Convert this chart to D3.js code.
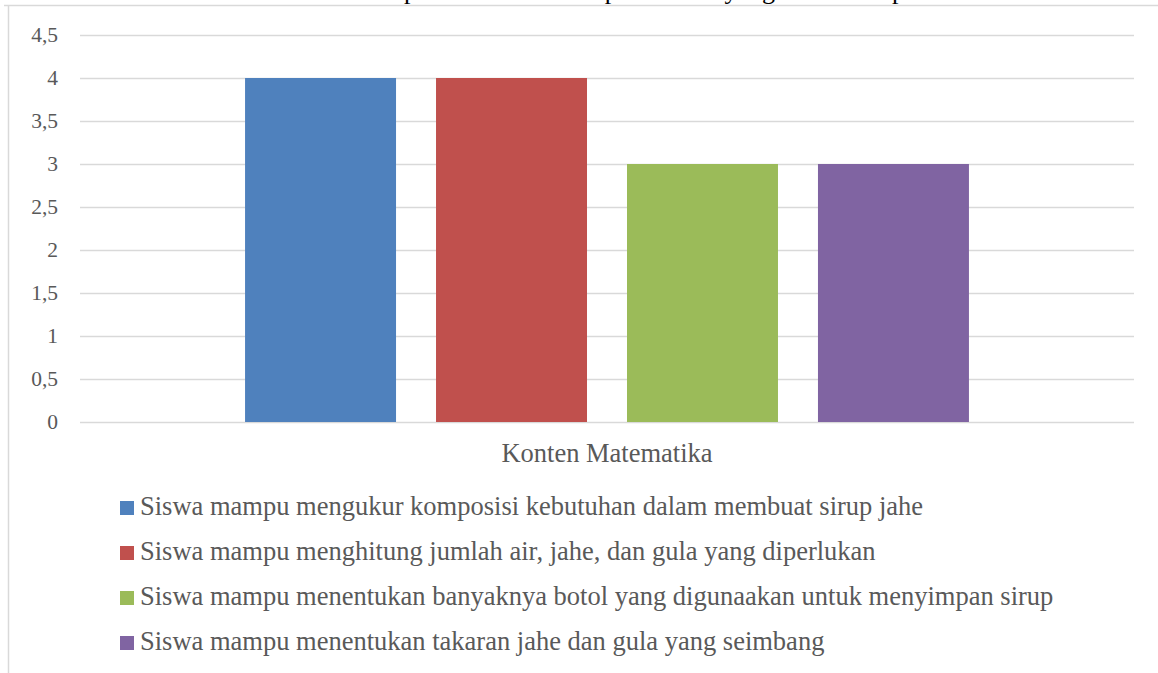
<!DOCTYPE html>
<html>
<head>
<meta charset="utf-8">
<script src="https://cdn.jsdelivr.net/npm/d3@7"></script>
<style>
  body { margin: 0; background: #fff; }
  svg { display: block; }
</style>
</head>
<body>
<svg id="chart" width="1158" height="673"></svg>
<script>
const titleText = "Komponen Matematika pada siswa yang sudah dicapai";
const categories = ["Konten Matematika"];
const seriesNames = [
	"Siswa mampu mengukur komposisi kebutuhan dalam membuat sirup jahe",
	"Siswa mampu menghitung jumlah air, jahe, dan gula yang diperlukan",
	"Siswa mampu menentukan banyaknya botol yang digunaakan untuk menyimpan sirup",
	"Siswa mampu menentukan takaran jahe dan gula yang seimbang",
];
const seriesValues = [4, 4, 3, 3];
const seriesColors = ["#4F81BD", "#C0504D", "#9BBB59", "#8064A2"];
const yTicks = [0, 0.5, 1, 1.5, 2, 2.5, 3, 3.5, 4, 4.5];

const svg = d3.select("#chart");
const font = '"Liberation Serif"';
const textColor = "#595959";

// chart frame (cropped at top/right in the original)
svg.append("line").attr("x1", 4).attr("x2", 1158).attr("y1", 5.5).attr("y2", 5.5)
	.attr("stroke", "#d9d9d9").attr("stroke-width", 1.5);
svg.append("line").attr("x1", 8.5).attr("x2", 8.5).attr("y1", 5).attr("y2", 673)
	.attr("stroke", "#d9d9d9").attr("stroke-width", 1.5);

// title, mostly cut off above the picture
svg.append("text")
	.attr("x", 352).attr("y", -1)
	.style("font-family", font).style("font-size", "26px")
	.attr("fill", "#000")
	.text(titleText);

const plotLeft = 80, plotRight = 1134, plotTop = 35, plotBottom = 422;

const y = d3.scaleLinear().domain([0, 4.5]).range([plotBottom, plotTop]);

const x0 = d3.scaleBand().domain(categories).range([plotLeft, plotRight])
	.paddingInner(0).paddingOuter(0.228);
const x1 = d3.scaleBand().domain(seriesNames).range([0, x0.bandwidth()])
	.paddingInner(0.2094).paddingOuter(0);

// gridlines
svg.append("g").selectAll("line")
	.data(yTicks)
	.join("line")
	.attr("x1", plotLeft).attr("x2", plotRight)
	.attr("y1", (d) => Math.round(y(d)) + 0.5)
	.attr("y2", (d) => Math.round(y(d)) + 0.5)
	.attr("stroke", "#d9d9d9").attr("stroke-width", 1.5);

// y axis labels
const fmt = (d) => String(d).replace(".", ",");
svg.append("g")
	.attr("transform", `translate(${plotLeft},0)`)
	.call(d3.axisLeft(y).tickValues(yTicks).tickFormat(fmt).tickSize(0).tickPadding(22))
	.call((g) => g.select(".domain").remove())
	.call((g) => g.selectAll("text")
		.style("font-family", font).style("font-size", "21.5px").attr("fill", textColor));

// bars
svg.append("g").selectAll("g")
	.data(categories)
	.join("g")
	.attr("transform", (c) => `translate(${x0(c)},0)`)
	.selectAll("rect")
	.data(seriesNames.map((name, i) => ({ name, value: seriesValues[i], color: seriesColors[i] })))
	.join("rect")
	.attr("x", (d) => x1(d.name))
	.attr("width", x1.bandwidth())
	.attr("y", (d) => y(d.value))
	.attr("height", (d) => y(0) - y(d.value))
	.attr("fill", (d) => d.color);

// category axis label
svg.append("g")
	.attr("transform", `translate(0,${plotBottom})`)
	.call(d3.axisBottom(x0).tickSize(0).tickPadding(21))
	.call((g) => g.select(".domain").remove())
	.call((g) => g.selectAll("text")
		.style("font-family", font).style("font-size", "26.5px").attr("fill", textColor));

// legend
const legend = svg.append("g").attr("transform", "translate(120,0)");
const rowY = d3.scalePoint().domain(seriesNames).range([508, 643]);
const items = legend.selectAll("g")
	.data(seriesNames)
	.join("g")
	.attr("transform", (d) => `translate(0,${rowY(d)})`);
items.append("rect")
	.attr("x", 0).attr("y", -7).attr("width", 14).attr("height", 14)
	.attr("fill", (d, i) => seriesColors[i]);
items.append("text")
	.attr("x", 20).attr("y", 7)
	.style("font-family", font).style("font-size", "26.5px")
	.attr("fill", textColor)
	.text((d) => d);
</script>
</body>
</html>
